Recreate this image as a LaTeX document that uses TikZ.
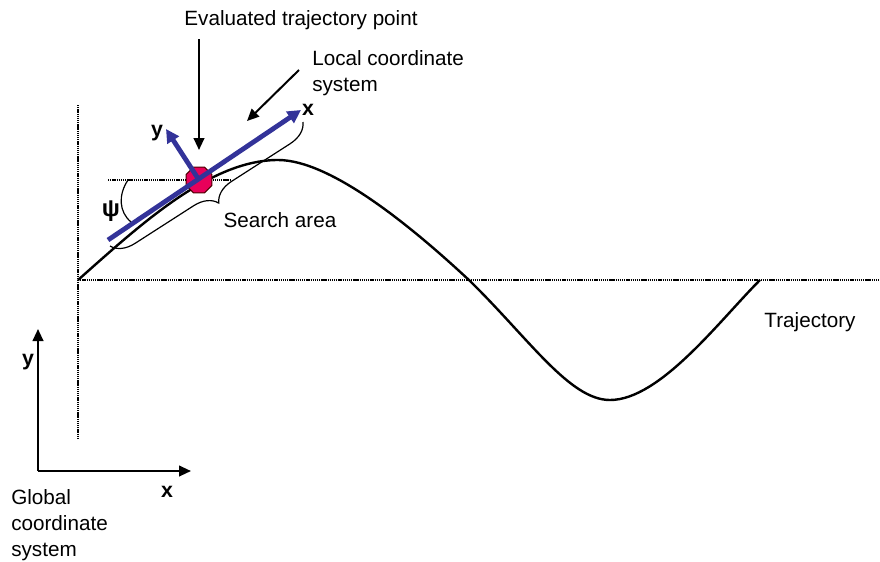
\documentclass[tikz,border=0pt]{standalone}
\usepackage{fontspec}
\setmainfont{Liberation Sans}
\usetikzlibrary{arrows.meta,decorations.pathreplacing,shapes.geometric}
\definecolor{axisblue}{HTML}{333399}
\definecolor{ptred}{HTML}{E8005A}
\begin{document}
\begin{tikzpicture}[x=0.75pt,y=-0.75pt,
  lbl/.style={font=\fontsize{15.5}{19.5}\selectfont, inner sep=0pt},
  blbl/.style={font=\fontsize{16}{19.5}\selectfont\bfseries, inner sep=0pt},
  blackarrow/.style={line width=1.5pt,-{Triangle[length=9pt,width=8pt]}},
  bluearrow/.style={line width=3.6pt,draw=axisblue,-{Triangle[length=10pt,width=10pt]}},
  dotline/.style={line width=1.1pt,dash pattern=on 1pt off 0.6pt},
  traj/.style={line width=1.8pt,line join=round}]
\useasboundingbox (0,0) rectangle (880,561);
% dotted reference lines
\draw[dotline] (78,280) -- (880,280);
\draw[dotline] (78,105) -- (78,439);
\draw[dotline] (108,180) -- (231,180);
% trajectory
\draw[traj] (78,280) .. controls (140,225) and (210,160) .. (278,160)
  .. controls (330,160) and (410,225) .. (470,281)
  .. controls (530,340) and (570,400) .. (610,400)
  .. controls (660,400) and (720,320) .. (760,280);
% angle arc
\draw[line width=0.9pt] (128,180) .. controls (118,195) and (119,212) .. (131,222);
\node[blbl,font=\fontsize{18}{20}\selectfont\bfseries] (psi) at (111,211) {ψ};
% search area brace
\draw[line width=0.9pt,decorate,decoration={brace,amplitude=17pt}] (303,122) -- (110,246);
\node[lbl] (search) at (280,220) {Search area};
% evaluated point
\node[draw=black!70!red,fill=ptred,line width=0.8pt,regular polygon,regular polygon sides=8,minimum size=21pt,inner sep=0pt] (pt) at (199,180) {};
% local axes
\coordinate (lxs) at (108,240);
\coordinate (lxe) at (301,110);
\coordinate (lye) at (166,129);
\draw[bluearrow] (lxs) -- (lxe);
\draw[bluearrow] (pt.center) -- (lye);
\node[blbl] (lx) at (308,110) {x};
\node[blbl] (ly) at (157,133) {y};
% labels with arrows
\node[lbl] (evt) at (301,20) {Evaluated trajectory point};
\coordinate (evs) at (199,39);
\draw[blackarrow] (evs) -- (199,150);
\node[lbl,align=left,anchor=west] (loc) at (312,73) {Local coordinate\\system};
\coordinate (lcs) at (299,70);
\coordinate (lce) at (247,121);
\draw[blackarrow] (lcs) -- (lce);
\node[lbl] (trajlbl) at (810,322) {Trajectory};
% global axes
\coordinate (go) at (38,471);
\coordinate (gy) at (38,329);
\coordinate (gx) at (191,471);
\draw[blackarrow] (go) -- (gy);
\draw[blackarrow] (go) -- (gx);
\node[blbl] (gylbl) at (28,362) {y};
\node[blbl] (gxlbl) at (167,492) {x};
\node[lbl,align=left,anchor=west] (glob) at (11,525) {Global\\coordinate\\system};
\end{tikzpicture}
\end{document}
